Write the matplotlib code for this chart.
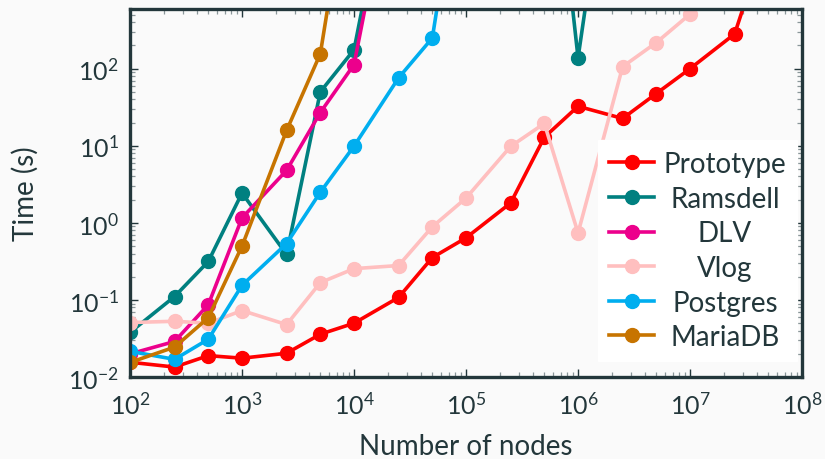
import numpy as np
import matplotlib
matplotlib.use("Agg")
import matplotlib.pyplot as plt
from matplotlib.ticker import LogLocator, NullFormatter

nan = np.nan

# x values (number of nodes)
nodes = [1e2, 2.5e2, 5e2, 1e3, 2.5e3, 5e3, 1e4, 2.5e4, 5e4, 1e5,
         2.5e5, 5e5, 1e6, 2.5e6, 5e6, 1e7, 2.5e7, 5e7]

# times in seconds, nan = not measured
prototype = [0.0156, 0.0135, 0.019, 0.0176, 0.0204, 0.036, 0.050, 0.108, 0.355, 0.64,
             1.81, 12.9, 32.5, 22.6, 47.6, 100, 282, 6000]
ramsdell = [0.038, 0.111, 0.316, 2.44, 0.39, 50, 176, 1.5e5, nan, nan,
            nan, 1.3e6, 138, 1.3e6, nan, nan, nan, nan]
dlv = [0.020, 0.029, 0.087, 1.16, 4.8, 27, 113, 1e5, nan, nan,
       nan, nan, nan, nan, nan, nan, nan, nan]
vlog = [0.051, 0.053, 0.050, 0.073, 0.048, 0.168, 0.255, 0.28, 0.89, 2.1,
        9.8, 19.5, 0.74, 106, 218, 510, nan, nan]
postgres = [0.0216, 0.017, 0.031, 0.155, 0.54, 2.5, 9.9, 76, 250, 1.5e5,
            nan, nan, nan, nan, nan, nan, nan, nan]
mariadb = [0.0155, 0.0245, 0.059, 0.50, 15.8, 156, 8e4, nan, nan, nan,
           nan, nan, nan, nan, nan, nan, nan, nan]

series = [
    ("Prototype", prototype, "#ff0000"),
    ("Ramsdell", ramsdell, "#008080"),
    ("DLV", dlv, "#ec008c"),
    ("Vlog", vlog, "#ffbfbf"),
    ("Postgres", postgres, "#00aeef"),
    ("MariaDB", mariadb, "#c77400"),
]

fg = "#23373b"
bg = "#fafafa"

plt.rcParams["font.family"] = ["Lato", "DejaVu Sans"]
plt.rcParams["mathtext.fontset"] = "custom"
plt.rcParams["mathtext.rm"] = "Lato"
plt.rcParams["mathtext.it"] = "Lato:italic"
plt.rcParams["text.color"] = fg

fig = plt.figure(figsize=(8.25, 4.6), dpi=100, facecolor=bg)
ax = fig.add_axes([0.1576, 0.178, 0.8146, 0.801])
ax.set_facecolor(bg)

for name, vals, col in series:
    ax.plot(nodes, vals, color=col, lw=2.6, marker="o", ms=10, label=name)

ax.set_xscale("log")
ax.set_yscale("log")
ax.set_xlim(1e2, 1e8)
ax.set_ylim(1e-2, 600)

ax.xaxis.set_major_locator(LogLocator(base=10, numticks=10))
ax.xaxis.set_minor_locator(LogLocator(base=10, subs=np.arange(2, 10), numticks=20))
ax.yaxis.set_minor_locator(LogLocator(base=10, subs=np.arange(2, 10), numticks=20))
ax.xaxis.set_minor_formatter(NullFormatter())
ax.yaxis.set_minor_formatter(NullFormatter())

for s in ax.spines.values():
    s.set_color(fg)
    s.set_linewidth(2.4)

ax.tick_params(which="both", direction="in", top=True, right=True,
               labelsize=18, labelcolor=fg)
ax.tick_params(axis="x", pad=10)
ax.tick_params(axis="y", pad=8)
ax.tick_params(which="major", length=6, width=1.0, color=fg)
ax.tick_params(which="minor", length=3.5, width=0.9, color="#8a9699")

ax.set_xlabel("Number of nodes", fontsize=20, color=fg, labelpad=11)
ax.set_ylabel("Time (s)", fontsize=20, color=fg)
ax.yaxis.set_label_coords(-0.136, 0.5)

leg = ax.legend(loc="lower right", bbox_to_anchor=(0.993, 0.043), fontsize=20,
                frameon=True, fancybox=False, borderpad=0.4, labelspacing=0.31,
                handlelength=1.6, handletextpad=0.35, borderaxespad=0)
leg.get_frame().set_facecolor("white")
leg.get_frame().set_edgecolor("white")
leg.get_frame().set_alpha(1.0)

# center the legend texts
fig.canvas.draw()
renderer = fig.canvas.get_renderer()
texts = leg.get_texts()
widths = [t.get_window_extent(renderer).width for t in texts]
wmax = max(widths)
for t, w in zip(texts, widths):
    t.set_color(fg)
    t.set_position(((wmax - w) / 2, 0))

fig.savefig("out.png", dpi=100, facecolor=bg)
